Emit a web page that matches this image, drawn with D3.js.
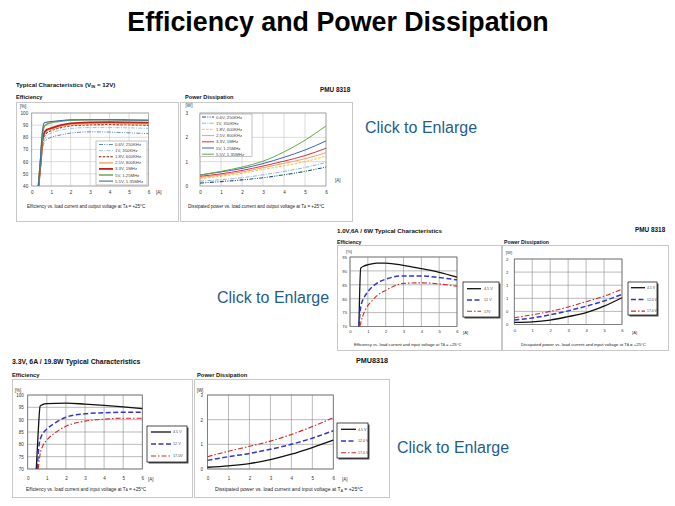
<!DOCTYPE html>
<html>
<head>
<meta charset="utf-8">
<script src="https://cdn.jsdelivr.net/npm/d3@7"></script>
<style>
  body { margin: 0; background: #fff; }
  svg { display: block; font-family: "Liberation Sans", Arial, sans-serif; }
</style>
</head>
<body>
<svg id="chart" width="675" height="506"></svg>
<script>
// ---------------- data ----------------
// Panel A: efficiency, VIN = 12V, 7 output settings
const effLoadA = [0.35, 0.45, 0.55, 0.65, 0.8, 1, 1.5, 2, 3, 4, 5, 6];
const effA_06 = [40, 54, 70, 76, 78.5, 80, 82, 83.5, 84.5, 84.3, 83.7, 83];
const effA_10 = [40, 55, 72, 78, 81.5, 83.5, 86, 87.3, 88, 88, 87.8, 87.3];
const effA_18 = [40, 56, 74, 81, 84, 85.5, 88, 89.5, 90.3, 90.5, 90.3, 90];
const effA_25 = [40, 57, 76, 83, 85.5, 86.5, 89, 90.5, 91.3, 91.5, 91.3, 91];
const effA_33 = [40, 58, 78, 84, 86.5, 87.5, 90, 91.5, 92.3, 92.5, 92.3, 92];
const effA_50 = [40, 60, 82, 89, 91, 92, 93.2, 94, 94.5, 94.5, 94.3, 94];
const effA_55 = [40, 62, 85, 92, 92.5, 93, 93.8, 94.5, 94.5, 94.5, 94.3, 94];
const namesA = ["0.6V, 250KHz", "1V, 350KHz", "1.8V, 600KHz", "2.5V, 800KHz", "3.3V, 1MHz", "5V, 1.25MHz", "5.5V, 1.35MHz"];

// Panel B: power dissipation, VIN = 12V
const pwrLoadB = [0, 1, 2, 3, 4, 5, 6];
const pwrB_06 = [0.12, 0.18, 0.25, 0.34, 0.46, 0.6, 0.78];
const pwrB_10 = [0.2, 0.26, 0.34, 0.46, 0.6, 0.76, 0.97];
const pwrB_18 = [0.3, 0.4, 0.52, 0.68, 0.83, 1.0, 1.23];
const pwrB_25 = [0.35, 0.45, 0.58, 0.75, 0.93, 1.12, 1.37];
const pwrB_33 = [0.4, 0.5, 0.64, 0.82, 1.02, 1.25, 1.55];
const pwrB_50 = [0.45, 0.58, 0.72, 0.92, 1.18, 1.48, 1.85];
const pwrB_55 = [0.45, 0.6, 0.78, 1.02, 1.4, 1.88, 2.47];

// Panel C: 1.0V, 6A efficiency vs input voltage
const effLoadC = [0.5, 0.6, 0.8, 1, 1.5, 2, 3, 4, 5, 6];
const effC_45 = [70, 91, 91.8, 92.2, 92.8, 92.8, 92, 90.8, 89.5, 87.8];
const effC_12 = [70, 77, 80.5, 82.5, 85.5, 87, 88.2, 88.2, 87.6, 86.8];
const effLoadC17 = [0.55, 0.7, 0.9, 1.2, 1.5, 2, 3, 4, 5, 6];
const effC_17 = [70, 73.5, 76.5, 79, 81, 83, 85.5, 85.7, 85.3, 84.5];
const namesC = ["4.5 V", "12 V", "17V"];

// Panel D: 1.0V, 6A power dissipation
const pwrLoadD = [0, 1, 2, 3, 4, 5, 6];
const pwrD_45 = [0.08, 0.1, 0.17, 0.3, 0.45, 0.7, 1.02];
const pwrD_12 = [0.17, 0.25, 0.37, 0.52, 0.7, 0.9, 1.15];
const pwrD_17 = [0.26, 0.37, 0.5, 0.67, 0.87, 1.08, 1.35];
const namesD = ["4.5 V", "12.0 V", "17.0 V"];
const yTicksD = [0, 0.5, 1, 1.5, 2, 2.5];

// Panel E: 3.3V, 6A efficiency
const effLoadE45 = [0.45, 0.55, 0.65, 0.8, 1, 2, 3, 4, 5, 6];
const effE_45 = [70, 85, 95.5, 96.2, 96.5, 96.7, 96.3, 95.8, 95.2, 94.5];
const effLoadE12 = [0.5, 0.6, 0.7, 0.85, 1, 1.5, 2, 3, 4, 5, 6];
const effE_12 = [70, 80, 83, 85, 86.2, 89, 91, 92.4, 92.8, 93, 93];
const effLoadE17 = [0.55, 0.65, 0.8, 1, 1.5, 2, 3, 4, 5, 6];
const effE_17 = [70, 76, 79.5, 81.7, 85, 87.3, 89.4, 90.2, 90.6, 90.6];
const namesE = ["4.5 V", "12 V", "17.0V"];

// Panel F: 3.3V, 6A power dissipation
const pwrLoadF = [0, 1, 2, 3, 4, 5, 6];
const pwrF_45 = [0.07, 0.13, 0.22, 0.38, 0.6, 0.87, 1.17];
const pwrF_12 = [0.35, 0.5, 0.63, 0.8, 1.0, 1.25, 1.55];
const pwrF_17 = [0.5, 0.72, 0.92, 1.13, 1.4, 1.72, 2.08];
const namesF = ["4.5 V", "12.0 V", "17.0 V"];

const loadTicks = [0, 1, 2, 3, 4, 5, 6];

// ---------------- drawing ----------------
const FONT = '"Liberation Sans", Arial, sans-serif';
const svg = d3.select('#chart');

// main title
svg.append('text')
    .attr('x', 338).attr('y', 31)
    .attr('text-anchor', 'middle')
    .attr('font-size', 26.8).attr('font-weight', 700)
    .attr('fill', '#000')
    .text('Efficiency and Power Dissipation');

// "Click to Enlarge" links
[[365, 133], [217, 303], [397, 453]].forEach(([cx, cy]) => {
    svg.append('text')
        .attr('x', cx).attr('y', cy)
        .attr('font-size', 16)
        .attr('fill', '#1f5e8c')
        .text('Click to Enlarge');
});

function boldText(x, y, size, str) {
    return svg.append('text')
        .attr('x', x).attr('y', y)
        .attr('font-size', size).attr('font-weight', 700)
        .attr('fill', '#111')
        .text(str);
}

// caption with a subscript "A" on T
function caption(g, x, y, size, before) {
    const t = g.append('text')
        .attr('x', x).attr('y', y)
        .attr('font-size', size).attr('fill', '#222');
    t.append('tspan').text(before + 'T');
    t.append('tspan').attr('font-size', size * 0.65).attr('dy', size * 0.2).text('A');
    t.append('tspan').attr('dy', -size * 0.2).text(' = +25°C');
}

function drawPanel(p) {
    const g = svg.append('g');

    // outer box
    g.append('rect')
        .attr('x', p.box[0] + 0.5).attr('y', p.box[1] + 0.5)
        .attr('width', p.box[2] - p.box[0]).attr('height', p.box[3] - p.box[1])
        .attr('fill', '#fff')
        .attr('stroke', '#c8c8c8');

    const x = d3.scaleLinear().domain([0, 6]).range([p.plot.left, p.plot.right]);
    const y = d3.scaleLinear().domain(p.yDomain).range([p.plot.bottom, p.plot.top]);

    // grid lines
    g.append('g').selectAll('line')
        .data(p.xTicks)
        .join('line')
        .attr('x1', d => x(d)).attr('x2', d => x(d))
        .attr('y1', p.plot.top).attr('y2', p.plot.bottom)
        .attr('stroke', p.gridColor).attr('stroke-width', 0.6);
    g.append('g').selectAll('line')
        .data(p.yTicks)
        .join('line')
        .attr('x1', p.plot.left).attr('x2', p.plot.right)
        .attr('y1', d => y(d)).attr('y2', d => y(d))
        .attr('stroke', p.gridColor).attr('stroke-width', 0.6);

    // plot frame
    g.append('rect')
        .attr('x', p.plot.left).attr('y', p.plot.top)
        .attr('width', p.plot.right - p.plot.left)
        .attr('height', p.plot.bottom - p.plot.top)
        .attr('fill', 'none')
        .attr('stroke', p.frameColor).attr('stroke-width', 0.7);

    // X axis
    const xa = g.append('g')
        .attr('transform', `translate(0,${p.plot.bottom})`)
        .call(d3.axisBottom(x).tickValues(p.xTicks).tickSize(0).tickPadding(p.xPad)
            .tickFormat(d3.format('d')));
    xa.select('.domain').remove();
    xa.attr('font-size', p.tickFont).attr('font-family', FONT);
    xa.selectAll('text').attr('fill', '#333');

    // Y axis
    const ya = g.append('g')
        .attr('transform', `translate(${p.plot.left},0)`)
        .call(d3.axisLeft(y).tickValues(p.yTicks).tickSize(0).tickPadding(p.yPad)
            .tickFormat(p.yFormat || d3.format('d')));
    ya.select('.domain').remove();
    ya.attr('font-size', p.tickFont).attr('font-family', FONT);
    ya.selectAll('text').attr('fill', '#333');

    // unit labels
    g.append('text').attr('x', p.unitY[0]).attr('y', p.unitY[1])
        .attr('font-size', p.tickFont).attr('fill', '#333').attr('text-anchor', 'middle')
        .text(p.unitYText);
    g.append('text').attr('x', p.unitX[0]).attr('y', p.unitX[1])
        .attr('font-size', p.tickFont).attr('fill', '#333')
        .text('[A]');

    caption(g, p.caption[0], p.caption[1], p.captionFont, p.captionText);

    // series
    const line = d3.line()
        .x(d => x(d[0]))
        .y(d => y(d[1]))
        .curve(d3.curveMonotoneX);

    p.series.forEach(s => {
        g.append('path')
            .datum(d3.zip(s.x, s.y))
            .attr('fill', 'none')
            .attr('stroke', s.color)
            .attr('stroke-width', s.width)
            .attr('stroke-dasharray', s.dash || null)
            .attr('d', line);
    });

    // legend
    const L = p.legend;
    if (L.shadow) {
        g.append('rect')
            .attr('x', L.box[0] + 1.5).attr('y', L.box[1] + 1.5)
            .attr('width', L.box[2] - L.box[0]).attr('height', L.box[3] - L.box[1])
            .attr('fill', '#555');
    }
    g.append('rect')
        .attr('x', L.box[0]).attr('y', L.box[1])
        .attr('width', L.box[2] - L.box[0]).attr('height', L.box[3] - L.box[1])
        .attr('fill', '#fff')
        .attr('stroke', L.stroke).attr('stroke-width', L.strokeWidth);

    p.series.forEach((s, i) => {
        const ry = L.row0 + i * L.rowStep;
        g.append('line')
            .attr('x1', L.line[0]).attr('x2', L.line[1])
            .attr('y1', ry).attr('y2', ry)
            .attr('stroke', s.color)
            .attr('stroke-width', s.width)
            .attr('stroke-dasharray', s.dash || null);
        g.append('text')
            .attr('x', L.textX).attr('y', ry)
            .attr('dy', '0.35em')
            .attr('font-size', L.font)
            .attr('fill', '#444')
            .text(s.name);
    });
}

// ---- top row: VIN = 12V ----
boldText(16, 87, 6.2, '').call(t => {
    t.append('tspan').text('Typical Characteristics (V');
    t.append('tspan').attr('font-size', 4).attr('dy', 1.2).text('IN');
    t.append('tspan').attr('dy', -1.2).text(' = 12V)');
});
boldText(16, 99, 5.6, 'Efficiency');
boldText(185, 99, 5.6, 'Power Dissipation');
boldText(320, 92, 6.4, 'PMU 8318');

const stylesA = [
    { color: '#4a7ebb', width: 0.9, dash: '4,1.3,1,1.3,1,1.3' },
    { color: '#93b9dd', width: 0.9, dash: '4,1.3,1,1.3' },
    { color: '#7a1c00', width: 1.1, dash: '2.4,1.4' },
    { color: '#f4b58a', width: 1.8 },
    { color: '#c0201a', width: 1.8 },
    { color: '#7bab55', width: 1.6 },
    { color: '#3d6d9e', width: 1.1 }
];
const seriesA = [effA_06, effA_10, effA_18, effA_25, effA_33, effA_50, effA_55]
    .map((v, i) => Object.assign({ name: namesA[i], x: effLoadA, y: v }, stylesA[i]));

drawPanel({
    box: [16, 102, 178, 221],
    plot: { left: 31.7, right: 148.5, top: 113, bottom: 186 },
    yDomain: [40, 100], yTicks: [40, 50, 60, 70, 80, 90, 100], xTicks: loadTicks,
    gridColor: '#c4c4c4', frameColor: '#9a9a9a',
    tickFont: 4.6, xPad: 4.5, yPad: 3.5,
    unitYText: '[%]', unitY: [23, 108], unitX: [156, 193.6],
    caption: [27, 207.5], captionFont: 4.5,
    captionText: 'Efficiency vs. load current and output voltage at ',
    series: seriesA,
    legend: { box: [96, 141, 147, 185], stroke: '#9a9a9a', strokeWidth: 0.6,
        row0: 144.5, rowStep: 6.1, line: [99, 113], textX: 115, font: 4.3 }
});

const stylesB = [
    { color: '#1f4f82', width: 1.1, dash: '4,1.3,1,1.3,1,1.3' },
    { color: '#79aedb', width: 0.9, dash: '4,1.3,1,1.3' },
    { color: '#f6bf45', width: 1.0, dash: '2.6,1.4' },
    { color: '#f2a066', width: 1.0 },
    { color: '#d6333e', width: 1.0 },
    { color: '#3c63b4', width: 1.0 },
    { color: '#66a84a', width: 1.0 }
];
const seriesB = [pwrB_06, pwrB_10, pwrB_18, pwrB_25, pwrB_33, pwrB_50, pwrB_55]
    .map((v, i) => Object.assign({ name: namesA[i], x: pwrLoadB, y: v }, stylesB[i]));

drawPanel({
    box: [180, 102, 352, 221],
    plot: { left: 200, right: 326, top: 113, bottom: 186 },
    yDomain: [0, 3], yTicks: [0, 1, 2, 3], xTicks: loadTicks,
    gridColor: '#c4c4c4', frameColor: '#9a9a9a',
    tickFont: 4.6, xPad: 4.5, yPad: 12,
    unitYText: '[W]', unitY: [189, 107], unitX: [335, 182],
    caption: [188, 207.5], captionFont: 4.6,
    captionText: 'Dissipated power vs. load current and output voltage at ',
    series: seriesB,
    legend: { box: [200, 114, 252, 156.5], stroke: '#9a9a9a', strokeWidth: 0.6,
        row0: 117, rowStep: 6.2, line: [202, 214], textX: 216, font: 4.3 }
});

// ---- middle right: 1.0V, 6A ----
boldText(337, 233, 6.2, '1.0V,6A / 6W Typical Characteristics');
boldText(337, 243.5, 5.2, 'Efficiency');
boldText(504, 243.5, 5.2, 'Power Dissipation');
boldText(635, 232, 6.4, 'PMU 8318');

const stylesV = [
    { color: '#111', width: 1.3 },
    { color: '#3535c8', width: 1.5, dash: '5,2.5' },
    { color: '#d02828', width: 1.1, dash: '5,2,1.5,2' }
];

drawPanel({
    box: [337, 245, 501, 350],
    plot: { left: 350, right: 457, top: 257, bottom: 326.5 },
    yDomain: [70, 95], yTicks: [70, 75, 80, 85, 90, 95], xTicks: loadTicks,
    gridColor: '#8c8c8c', frameColor: '#6a6a6a',
    tickFont: 4.2, xPad: 4, yPad: 3,
    unitYText: '[%]', unitY: [349, 252.5], unitX: [463, 333.5],
    caption: [354, 345.5], captionFont: 4.2,
    captionText: 'Efficiency vs. load current and input voltage at ',
    series: [
        Object.assign({ name: namesC[0], x: effLoadC, y: effC_45 }, stylesV[0]),
        Object.assign({ name: namesC[1], x: effLoadC, y: effC_12 }, stylesV[1]),
        Object.assign({ name: namesC[2], x: effLoadC17, y: effC_17 }, stylesV[2])
    ],
    legend: { box: [463, 282, 499, 317], stroke: '#000', strokeWidth: 0.7, shadow: true,
        row0: 288.7, rowStep: 11.3, line: [467, 481], textX: 484, font: 3.7 }
});

drawPanel({
    box: [502, 245, 668, 350],
    plot: { left: 514.3, right: 622, top: 259, bottom: 324.5 },
    yDomain: [0, 2.5], yTicks: yTicksD, xTicks: loadTicks,
    yFormat: d => Math.floor(d),
    gridColor: '#8c8c8c', frameColor: '#6a6a6a',
    tickFont: 4.2, xPad: 5, yPad: 6,
    unitYText: '[W]', unitY: [509, 254], unitX: [632, 333.5],
    caption: [521, 345.5], captionFont: 4.3,
    captionText: 'Dissipated power vs. load current and input voltage at ',
    series: [
        Object.assign({ name: namesD[0], x: pwrLoadD, y: pwrD_45 }, stylesV[0]),
        Object.assign({ name: namesD[1], x: pwrLoadD, y: pwrD_12 }, stylesV[1]),
        Object.assign({ name: namesD[2], x: pwrLoadD, y: pwrD_17 }, stylesV[2])
    ],
    legend: { box: [628, 282, 657, 315], stroke: '#000', strokeWidth: 0.7, shadow: true,
        row0: 287.7, rowStep: 11.7, line: [631, 645], textX: 647, font: 3.4 }
});

// ---- bottom left: 3.3V, 6A ----
boldText(12, 363.5, 6.9, '3.3V, 6A / 19.8W Typical Characteristics');
boldText(12, 376.5, 5.8, 'Efficiency');
boldText(197, 376.5, 5.8, 'Power Dissipation');
boldText(356, 363, 7.2, 'PMU8318');

drawPanel({
    box: [12, 379, 192, 497],
    plot: { left: 27.7, right: 142.3, top: 395, bottom: 469 },
    yDomain: [70, 100], yTicks: [70, 75, 80, 85, 90, 95, 100], xTicks: loadTicks,
    gridColor: '#8c8c8c', frameColor: '#6a6a6a',
    tickFont: 4.5, xPad: 8, yPad: 4,
    unitYText: '[%]', unitY: [18, 391.5], unitX: [148, 480.5],
    caption: [26, 490.5], captionFont: 4.7,
    captionText: 'Efficiency vs. load current and input voltage at ',
    series: [
        Object.assign({ name: namesE[0], x: effLoadE45, y: effE_45 }, stylesV[0]),
        Object.assign({ name: namesE[1], x: effLoadE12, y: effE_12 }, stylesV[1]),
        Object.assign({ name: namesE[2], x: effLoadE17, y: effE_17 }, stylesV[2])
    ],
    legend: { box: [147, 426, 187, 462], stroke: '#000', strokeWidth: 0.7, shadow: true,
        row0: 432, rowStep: 12, line: [151, 171], textX: 173, font: 3.7 }
});

drawPanel({
    box: [194, 379, 389, 497],
    plot: { left: 207.5, right: 333.3, top: 395, bottom: 469 },
    yDomain: [0, 3], yTicks: [0, 1, 2, 3], xTicks: loadTicks,
    gridColor: '#8c8c8c', frameColor: '#6a6a6a',
    tickFont: 4.5, xPad: 8, yPad: 4.5,
    unitYText: '[W]', unitY: [200, 391.5], unitX: [342, 480.5],
    caption: [215, 490.5], captionFont: 5.1,
    captionText: 'Dissipated power vs. load current and input voltage at ',
    series: [
        Object.assign({ name: namesF[0], x: pwrLoadF, y: pwrF_45 }, stylesV[0]),
        Object.assign({ name: namesF[1], x: pwrLoadF, y: pwrF_12 }, stylesV[1]),
        Object.assign({ name: namesF[2], x: pwrLoadF, y: pwrF_17 }, stylesV[2])
    ],
    legend: { box: [337, 423, 368, 458], stroke: '#000', strokeWidth: 0.7, shadow: true,
        row0: 429.3, rowStep: 11.7, line: [341, 356], textX: 358, font: 3.6 }
});
</script>
</body>
</html>
